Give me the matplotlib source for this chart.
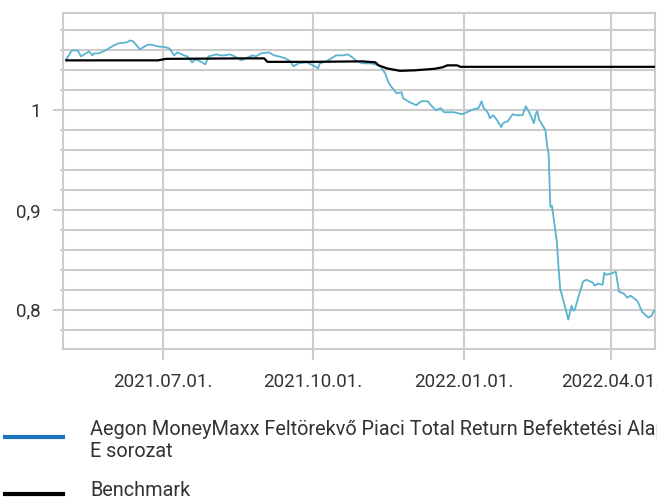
import numpy as np
import pandas as pd
import matplotlib
matplotlib.use("Agg")
import matplotlib.pyplot as plt
import matplotlib.dates as mdates
from matplotlib.lines import Line2D
from matplotlib.ticker import FixedLocator, MultipleLocator, FuncFormatter

plt.rcParams['font.family'] = ['Roboto', 'DejaVu Sans']

# fund series
fund_dates = ["2021-05-03", "2021-05-06", "2021-05-07", "2021-05-10", "2021-05-12", "2021-05-15",
              "2021-05-17", "2021-05-19", "2021-05-20", "2021-05-23", "2021-05-27", "2021-05-31",
              "2021-06-01", "2021-06-04", "2021-06-09", "2021-06-11", "2021-06-13", "2021-06-17",
              "2021-06-21", "2021-06-23", "2021-06-28", "2021-07-03", "2021-07-05", "2021-07-08",
              "2021-07-10", "2021-07-14", "2021-07-16", "2021-07-19", "2021-07-21", "2021-07-24",
              "2021-07-27", "2021-07-29", "2021-08-03", "2021-08-05", "2021-08-08", "2021-08-11",
              "2021-08-14", "2021-08-18", "2021-08-22", "2021-08-25", "2021-08-27", "2021-08-30",
              "2021-09-04", "2021-09-07", "2021-09-10", "2021-09-14", "2021-09-17", "2021-09-19",
              "2021-09-22", "2021-09-27", "2021-10-01", "2021-10-04", "2021-10-05", "2021-10-09",
              "2021-10-13", "2021-10-15", "2021-10-19", "2021-10-22", "2021-10-25", "2021-10-27",
              "2021-10-31", "2021-11-05", "2021-11-08", "2021-11-11", "2021-11-14", "2021-11-16",
              "2021-11-18", "2021-11-21", "2021-11-24", "2021-11-25", "2021-11-29", "2021-12-03",
              "2021-12-06", "2021-12-10", "2021-12-12", "2021-12-15", "2021-12-18", "2021-12-20",
              "2021-12-26", "2021-12-31", "2022-01-03", "2022-01-07", "2022-01-10", "2022-01-12",
              "2022-01-13", "2022-01-16", "2022-01-17", "2022-01-19", "2022-01-21", "2022-01-24",
              "2022-01-25", "2022-01-28", "2022-01-31", "2022-02-02", "2022-02-06", "2022-02-08",
              "2022-02-10", "2022-02-13", "2022-02-14", "2022-02-15", "2022-02-16", "2022-02-20",
              "2022-02-21", "2022-02-22", "2022-02-23", "2022-02-24", "2022-02-27", "2022-02-28",
              "2022-03-01", "2022-03-03", "2022-03-06", "2022-03-08", "2022-03-09", "2022-03-10",
              "2022-03-12", "2022-03-15", "2022-03-17", "2022-03-21", "2022-03-22", "2022-03-24",
              "2022-03-27", "2022-03-28", "2022-03-29", "2022-04-01", "2022-04-04", "2022-04-06",
              "2022-04-09", "2022-04-11", "2022-04-13", "2022-04-17", "2022-04-18", "2022-04-20",
              "2022-04-24", "2022-04-26", "2022-04-27", "2022-04-28"]
fund_values = [1.051, 1.059, 1.060, 1.060, 1.054, 1.057,
               1.059, 1.055, 1.057, 1.057, 1.060, 1.064,
               1.065, 1.067, 1.068, 1.070, 1.069, 1.061,
               1.065, 1.066, 1.064, 1.063, 1.062, 1.055,
               1.058, 1.055, 1.054, 1.048, 1.051, 1.049,
               1.046, 1.054, 1.056, 1.055, 1.055, 1.056,
               1.054, 1.050, 1.053, 1.055, 1.054, 1.057,
               1.058, 1.055, 1.054, 1.052, 1.049, 1.044,
               1.047, 1.048, 1.045, 1.042, 1.047, 1.049,
               1.053, 1.055, 1.055, 1.056, 1.053, 1.050,
               1.047, 1.047, 1.046, 1.044, 1.037, 1.028,
               1.023, 1.017, 1.018, 1.012, 1.008, 1.005,
               1.009, 1.009, 1.005, 1.000, 1.002, 0.998,
               0.998, 0.996, 0.998, 1.001, 1.002, 1.009,
               1.003, 0.997, 0.992, 0.995, 0.991, 0.983,
               0.987, 0.989, 0.996, 0.995, 0.995, 1.004,
               0.998, 0.987, 0.996, 0.999, 0.991, 0.980,
               0.965, 0.955, 0.903, 0.904, 0.868, 0.843,
               0.821, 0.809, 0.790, 0.804, 0.799, 0.800,
               0.812, 0.828, 0.830, 0.827, 0.824, 0.826,
               0.825, 0.837, 0.835, 0.836, 0.838, 0.818,
               0.816, 0.812, 0.814, 0.809, 0.806, 0.798,
               0.792, 0.794, 0.798, 0.799]

# benchmark
bench_dates = ["2021-05-03", "2021-06-28", "2021-07-03", "2021-08-20", "2021-09-01", "2021-09-03",
               "2021-10-01", "2021-10-31", "2021-11-08", "2021-11-10", "2021-11-15", "2021-11-23",
               "2021-12-02", "2021-12-14", "2021-12-19", "2021-12-22", "2021-12-28", "2021-12-30",
               "2022-04-28"]
bench_values = [1.050, 1.050, 1.0515, 1.052, 1.052, 1.0485,
                1.0485, 1.049, 1.048, 1.045, 1.042, 1.0395,
                1.040, 1.0415, 1.043, 1.045, 1.045, 1.0435,
                1.0435]

x_ticks = ["2021-07-01", "2021-10-01", "2022-01-01", "2022-04-01"]
y_ticks = [0.8, 0.9, 1.0]

fund_label = "Aegon MoneyMaxx Feltörekvő Piaci Total Return Befektetési Alap\nE sorozat"
bench_label = "Benchmark"

grid_c = "#cccccc"
text_c = "#333333"

fig = plt.figure(figsize=(6.57, 5.0), dpi=100)
ax = fig.add_axes([63 / 657, 1 - 349 / 500, (655 - 63) / 657, (349 - 13) / 500])

ax.plot(pd.to_datetime(fund_dates), fund_values, color="#5ab3cf", lw=1.3, zorder=3)
ax.plot(pd.to_datetime(bench_dates), bench_values, color="black", lw=1.6, zorder=4)

ax.set_xlim(pd.Timestamp("2021-05-01"), pd.Timestamp("2022-04-28"))
ax.set_ylim(0.7605, 1.0975)

ax.xaxis.set_major_locator(FixedLocator(mdates.date2num(pd.to_datetime(x_ticks))))
ax.xaxis.set_major_formatter(mdates.DateFormatter("%Y.%m.%d."))
ax.yaxis.set_major_locator(FixedLocator(y_ticks))
ax.yaxis.set_minor_locator(MultipleLocator(0.02))
ax.yaxis.set_major_formatter(FuncFormatter(lambda v, p: ("%g" % round(v, 2)).replace(".", ",")))

ax.grid(True, which="major", axis="both", color=grid_c, lw=1.5)
ax.grid(True, which="minor", axis="y", color=grid_c, lw=1.5)
ax.set_axisbelow(True)

for s in ax.spines.values():
    s.set_color(grid_c)
    s.set_linewidth(1.5)

ax.tick_params(axis="y", which="major", length=7, width=1.5, color=grid_c,
               labelsize=13.5, labelcolor=text_c, pad=9)
ax.tick_params(axis="y", which="minor", length=2.5, width=1.5, color=grid_c)
ax.tick_params(axis="x", which="major", length=8, width=1.5, color=grid_c,
               labelsize=13.5, labelcolor=text_c, pad=9)

# legend drawn by hand (line colours differ from the plot)
fig.add_artist(Line2D([5 / 657, 63 / 657], [1 - 437 / 500] * 2, color="#1a73bb", lw=3,
                      transform=fig.transFigure))
fig.text(90 / 657, 1 - 440 / 500, fund_label, fontsize=14.3, color=text_c,
         va="center", ha="left", linespacing=1.2)
fig.add_artist(Line2D([5 / 657, 63 / 657], [1 - 494 / 500] * 2, color="black", lw=3,
                      transform=fig.transFigure))
fig.text(90 / 657, 1 - 491 / 500, bench_label, fontsize=14.3, color=text_c,
         va="center", ha="left")

fig.savefig("out.png", dpi=100)
